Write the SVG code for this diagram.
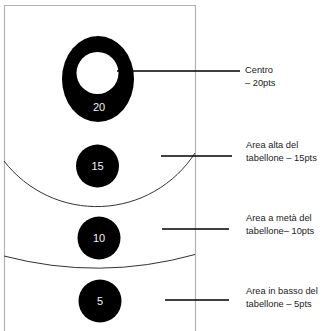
<svg xmlns="http://www.w3.org/2000/svg" width="329" height="331" viewBox="0 0 329 331">
<style>
.board{fill:none;stroke:#b3b3b3;stroke-width:1.2}
.arc{fill:none;stroke:#333;stroke-width:1}
.disc{fill:#000}
.num{fill:#f2f2f2;font-family:"Liberation Sans",Arial,sans-serif;font-size:11px;text-anchor:middle}
.lbl{fill:#222;font-family:"Liberation Sans",Arial,sans-serif;font-size:9.3px}
.conn{stroke:#000;stroke-width:1.6;fill:none}
</style>
<rect width="329" height="331" fill="#fff"/>
<g id="board">
<path class="board" d="M4.5,340 V5.5 H195.5 V340"/>
<path class="arc" d="M4,161 A117,117 0 0 0 195,153"/>
<path class="arc" d="M4,256 A366,366 0 0 0 195,254.5"/>
</g>
<g id="node-20">
<ellipse class="disc" cx="98" cy="79" rx="36" ry="43"/>
<circle cx="97.5" cy="73" r="21" fill="#fff"/>
<text class="num" x="99" y="111">20</text>
</g>
<g id="node-15">
<circle class="disc" cx="97.5" cy="166" r="21.5"/>
<text class="num" x="97.5" y="170">15</text>
</g>
<g id="node-10">
<circle class="disc" cx="99" cy="238" r="21.5"/>
<text class="num" x="99" y="242">10</text>
</g>
<g id="node-5">
<circle class="disc" cx="100" cy="301" r="21.5"/>
<text class="num" x="100" y="305">5</text>
</g>
<g id="connectors">
<line class="conn" x1="117" y1="71" x2="240" y2="71"/>
<line class="conn" x1="161" y1="156" x2="232" y2="156"/>
<line class="conn" x1="162" y1="229" x2="229" y2="229"/>
<line class="conn" x1="165" y1="300" x2="229" y2="300"/>
</g>
<g id="labels">
<text class="lbl" x="245" y="73">Centro</text>
<text class="lbl" x="245" y="86">– 20pts</text>
<text class="lbl" x="246" y="148">Area alta del</text>
<text class="lbl" x="246" y="161">tabellone – 15pts</text>
<text class="lbl" x="246" y="221">Area a metà del</text>
<text class="lbl" x="246" y="234">tabellone– 10pts</text>
<text class="lbl" x="246" y="294">Area in basso del</text>
<text class="lbl" x="246" y="307">tabellone – 5pts</text>
</g>
</svg>
